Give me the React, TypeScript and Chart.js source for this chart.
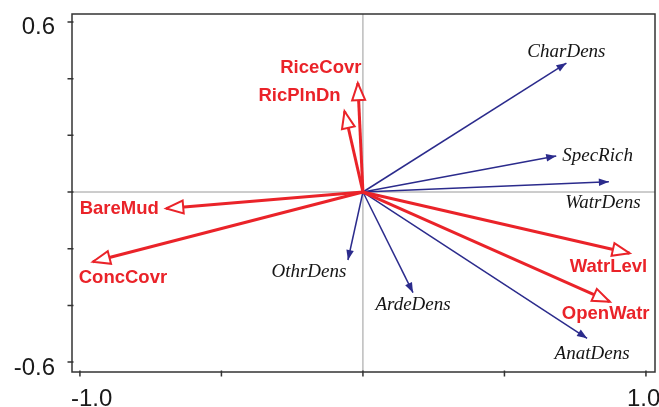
import React, { useEffect, useRef } from "react";
import { Chart, registerables } from "chart.js";

Chart.register(...registerables);

// ---- data ----
const SPECIES = ["CharDens", "SpecRich", "WatrDens", "OthrDens", "ArdeDens", "AnatDens"];
const SPECIES_X = [0.719, 0.683, 0.869, -0.053, 0.177, 0.792];
const SPECIES_Y = [0.455, 0.127, 0.036, -0.24, -0.355, -0.516];

const ENV = ["RiceCovr", "RicPlnDn", "BareMud", "ConcCovr", "WatrLevl", "OpenWatr"];
const ENV_X = [-0.018, -0.065, -0.695, -0.954, 0.942, 0.872];
const ENV_Y = [0.384, 0.285, -0.058, -0.246, -0.216, -0.387];

const X_TICKS = [-1.0, -0.5, 0, 0.5, 1.0];
const Y_TICKS = [-0.6, -0.4, -0.2, 0, 0.2, 0.4, 0.6];
const X_TICK_LABELS = ["-1.0", "", "", "", "1.0"];
const Y_TICK_LABELS = ["-0.6", "", "", "", "", "", "0.6"];

// ---- layout (pixel offsets of labels from arrow tips) ----
const SPECIES_LABEL_DX = [0, 6, -6, -39, 0, 5];
const SPECIES_LABEL_DY = [-11, 0, 21, 12, 12, 16];
const SPECIES_LABEL_ALIGN: CanvasTextAlign[] = ["center", "left", "center", "center", "center", "center"];
const ENV_LABEL_DX = [-37, -45, -47, 30, -21, -4];
const ENV_LABEL_DY = [-15, -15, 0, 16, 14, 12];
const X_LABEL_DX = [-9, -19]; // left-aligned offsets for first and last labels

const RED = "#ea2329";
const BLUE = "#2b2b8c";

export default function App() {
  const ref = useRef<HTMLCanvasElement | null>(null);

  useEffect(() => {
    if (!ref.current) return;

    const datasets: any[] = [];
    ENV.forEach((n, i) => {
      datasets.push({
        label: n,
        data: [
          { x: 0, y: 0 },
          { x: ENV_X[i], y: ENV_Y[i] },
        ],
        showLine: true,
        borderColor: RED,
        borderWidth: 3,
        pointRadius: 0,
        kind: "env",
      });
    });
    SPECIES.forEach((n, i) => {
      datasets.push({
        label: n,
        data: [
          { x: 0, y: 0 },
          { x: SPECIES_X[i], y: SPECIES_Y[i] },
        ],
        showLine: true,
        borderColor: BLUE,
        borderWidth: 1.5,
        pointRadius: 0,
        kind: "sp",
      });
    });

    const biplot = {
      id: "biplot",
      beforeDatasetsDraw(chart: any) {
        const { ctx, chartArea: a, scales } = chart;
        const x0 = scales.x.getPixelForValue(0);
        const y0 = scales.y.getPixelForValue(0);
        ctx.save();
        ctx.strokeStyle = "#9a9a9a";
        ctx.lineWidth = 1;
        ctx.beginPath();
        ctx.moveTo(x0, a.top);
        ctx.lineTo(x0, a.bottom);
        ctx.moveTo(a.left, y0);
        ctx.lineTo(a.right, y0);
        ctx.stroke();
        ctx.restore();
      },
      afterDatasetsDraw(chart: any) {
        const { ctx } = chart;
        chart.data.datasets.forEach((ds: any, di: number) => {
          const meta = chart.getDatasetMeta(di);
          const p0 = meta.data[0];
          const p1 = meta.data[1];
          const ang = Math.atan2(p1.y - p0.y, p1.x - p0.x);
          const env = ds.kind === "env";
          const len = env ? 17 : 10;
          const hw = env ? 6.5 : 3.8;
          const bx = p1.x - Math.cos(ang) * len;
          const by = p1.y - Math.sin(ang) * len;
          const nx = -Math.sin(ang) * hw;
          const ny = Math.cos(ang) * hw;
          ctx.save();
          ctx.beginPath();
          ctx.moveTo(p1.x, p1.y);
          ctx.lineTo(bx + nx, by + ny);
          ctx.lineTo(bx - nx, by - ny);
          ctx.closePath();
          if (env) {
            ctx.fillStyle = "#ffffff";
            ctx.fill();
            ctx.strokeStyle = RED;
            ctx.lineWidth = 2;
            ctx.lineJoin = "miter";
            ctx.stroke();
          } else {
            ctx.fillStyle = BLUE;
            ctx.fill();
          }
          ctx.restore();
        });
      },
      afterDraw(chart: any) {
        const { ctx, chartArea: a, scales } = chart;
        ctx.save();
        // frame
        ctx.strokeStyle = "#333333";
        ctx.lineWidth = 1.5;
        ctx.strokeRect(a.left, a.top, a.right - a.left, a.bottom - a.top);
        // ticks
        ctx.beginPath();
        Y_TICKS.forEach((v) => {
          const y = scales.y.getPixelForValue(v);
          ctx.moveTo(a.left - 4.5, y);
          ctx.lineTo(a.left + 1.5, y);
        });
        X_TICKS.forEach((v) => {
          const x = scales.x.getPixelForValue(v);
          ctx.moveTo(x, a.bottom - 1.5);
          ctx.lineTo(x, a.bottom + 4.5);
        });
        ctx.stroke();
        // tick labels
        ctx.fillStyle = "#1a1a1a";
        ctx.font = "24px 'Liberation Sans', Arial, sans-serif";
        ctx.textBaseline = "alphabetic";
        ctx.textAlign = "right";
        Y_TICKS.forEach((v, i) => {
          const t = Y_TICK_LABELS[i];
          if (!t) return;
          const y = scales.y.getPixelForValue(v);
          ctx.fillText(t, 55, y + 12.5);
        });
        ctx.textAlign = "left";
        let k = 0;
        X_TICKS.forEach((v, i) => {
          const t = X_TICK_LABELS[i];
          if (!t) return;
          const x = scales.x.getPixelForValue(v);
          ctx.fillText(t, x + X_LABEL_DX[k++], 405.5);
        });
        // species labels
        ctx.fillStyle = "#151515";
        ctx.font = "italic 19px 'Liberation Serif', 'Times New Roman', serif";
        ctx.textBaseline = "middle";
        SPECIES.forEach((n, i) => {
          const x = scales.x.getPixelForValue(SPECIES_X[i]);
          const y = scales.y.getPixelForValue(SPECIES_Y[i]);
          ctx.textAlign = SPECIES_LABEL_ALIGN[i];
          ctx.fillText(n, x + SPECIES_LABEL_DX[i], y + SPECIES_LABEL_DY[i]);
        });
        // env labels
        ctx.fillStyle = RED;
        ctx.font = "bold 18.5px 'Liberation Sans', Arial, sans-serif";
        ctx.textAlign = "center";
        ENV.forEach((n, i) => {
          const x = scales.x.getPixelForValue(ENV_X[i]);
          const y = scales.y.getPixelForValue(ENV_Y[i]);
          ctx.fillText(n, x + ENV_LABEL_DX[i], y + ENV_LABEL_DY[i]);
        });
        ctx.restore();
      },
    };

    const chart = new Chart(ref.current, {
      type: "scatter",
      data: { datasets },
      options: {
        animation: false,
        responsive: false,
        layout: { padding: { left: 72, right: 4, top: 14, bottom: 35 } },
        plugins: { legend: { display: false }, tooltip: { enabled: false } },
        scales: {
          x: { type: "linear", min: -1.028, max: 1.032, display: false },
          y: { type: "linear", min: -0.635, max: 0.628, display: false },
        },
      },
      plugins: [biplot],
    });
    return () => chart.destroy();
  }, []);

  return (
    <div style={{ position: "absolute", left: 0, top: 0, width: 659, height: 407, background: "#fff" }}>
      <canvas ref={ref} width={659} height={407} style={{ width: 659, height: 407 }} />
    </div>
  );
}
